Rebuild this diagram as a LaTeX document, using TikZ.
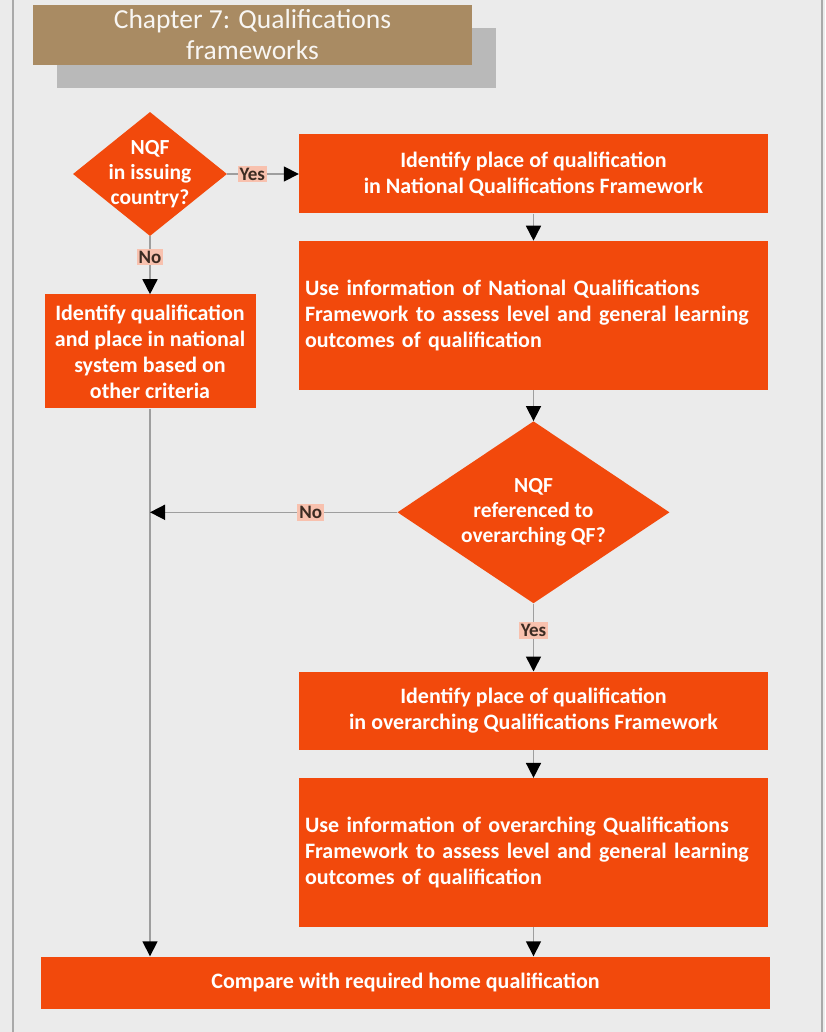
\documentclass[tikz,border=0pt]{standalone}
\usepackage{fontspec}
\setmainfont{Carlito}
\usetikzlibrary{shapes.geometric,arrows.meta,positioning,shadows}
\definecolor{qforange}{HTML}{F2490C}
\definecolor{qfbrown}{HTML}{A98B63}
\definecolor{qfshadow}{HTML}{B9B9B9}
\definecolor{qfpaper}{HTML}{EBEBEB}
\definecolor{qfframe}{HTML}{A9A9A9}
\definecolor{qftag}{HTML}{F8C1AE}
\definecolor{qftagtext}{HTML}{3B2B22}
\definecolor{qfline}{HTML}{9E9E9E}
\tikzset{
  stepbox/.style={fill=qforange, text=white, minimum width=469pt, inner xsep=6pt,
    font=\bfseries\fontsize{22}{26}\selectfont},
  decision/.style={diamond, fill=qforange, text=white, align=center, inner sep=-12pt,
    font=\bfseries\fontsize{21.5}{25}\selectfont},
  tag/.style={fill=qftag, text=qftagtext, inner sep=2pt,
    font=\bfseries\fontsize{19}{22}\selectfont},
  flow/.style={draw=qfline, line width=1.6pt, -{Triangle[color=black,length=15pt,width=15pt]}}
}
\begin{document}
\begin{tikzpicture}[x=1pt,y=-1pt]
\useasboundingbox (0,0) rectangle (825,1032);
\fill[qfpaper] (0,0) rectangle (825,1032);
\draw[qfframe, line width=2pt] (13,0) -- (13,1032);
\draw[qfframe, line width=2pt] (822,0) -- (822,1032);
% title with its grey shadow
\node[fill=qfbrown, text=white!92!qfbrown, minimum width=439pt, minimum height=60pt,
  inner sep=0pt, align=center, font=\fontsize{27.5}{31}\selectfont,
  drop shadow={shadow xshift=24pt, shadow yshift=-23pt, fill=qfshadow, opacity=1}]
  (title) at (252.5,35) {Chapter 7: Qualifications\\frameworks};
% first question and the national column
\node[decision, minimum width=154pt, minimum height=124pt] (nqf) at (150,174) {NQF\\in issuing\\country?};
\node[stepbox, align=center, minimum height=79pt] (placenat) at (533.5,174) {Identify place of qualification\\in National Qualifications Framework};
\draw[flow] (nqf.east) -- node[tag, pos=0.35] {Yes} (placenat.west);
\node[stepbox, align=left, text width=457pt, minimum height=149pt, below=27pt of placenat] (usenat) {Use information of National Qualifications\\Framework to assess level and general learning\\outcomes of qualification};
\draw[flow] (placenat) -- (usenat);
\node[fill=qforange, text=white, align=center, minimum width=211pt, minimum height=114pt,
  inner sep=3pt, font=\bfseries\fontsize{22}{26}\selectfont, below=58pt of nqf] (other) {Identify qualification\\and place in national\\system based on\\other criteria};
\draw[flow] (nqf.south) -- node[tag, pos=0.36] {No} (other.north);
% second question and the overarching column
\node[decision, minimum width=272pt, minimum height=182pt, below=31pt of usenat] (refqf) {NQF\\referenced to\\overarching QF?};
\draw[flow] (usenat) -- (refqf);
\node[stepbox, align=center, minimum height=78pt, below=68pt of refqf] (placeover) {Identify place of qualification\\in overarching Qualifications Framework};
\draw[flow] (refqf.south) -- node[tag, pos=0.4] {Yes} (placeover.north);
\node[stepbox, align=left, text width=457pt, minimum height=149pt, below=28pt of placeover] (useover) {Use information of overarching Qualifications\\Framework to assess level and general learning\\outcomes of qualification};
\draw[flow] (placeover) -- (useover);
% final comparison
\node[fill=qforange, text=white, minimum width=729pt, minimum height=52pt,
  font=\bfseries\fontsize{22}{26}\selectfont] (compare) at (405.5,982.5) {Compare with required home qualification};
\draw[flow] (useover.south) -- (useover.south |- compare.north);
\coordinate (leftin) at (other.south |- compare.north);
\coordinate (join) at (other.south |- refqf.west);
\draw[flow] (other.south) -- (leftin);
\draw[flow] (refqf.west) -- node[tag, pos=0.35] {No} (join);
\end{tikzpicture}
\end{document}
